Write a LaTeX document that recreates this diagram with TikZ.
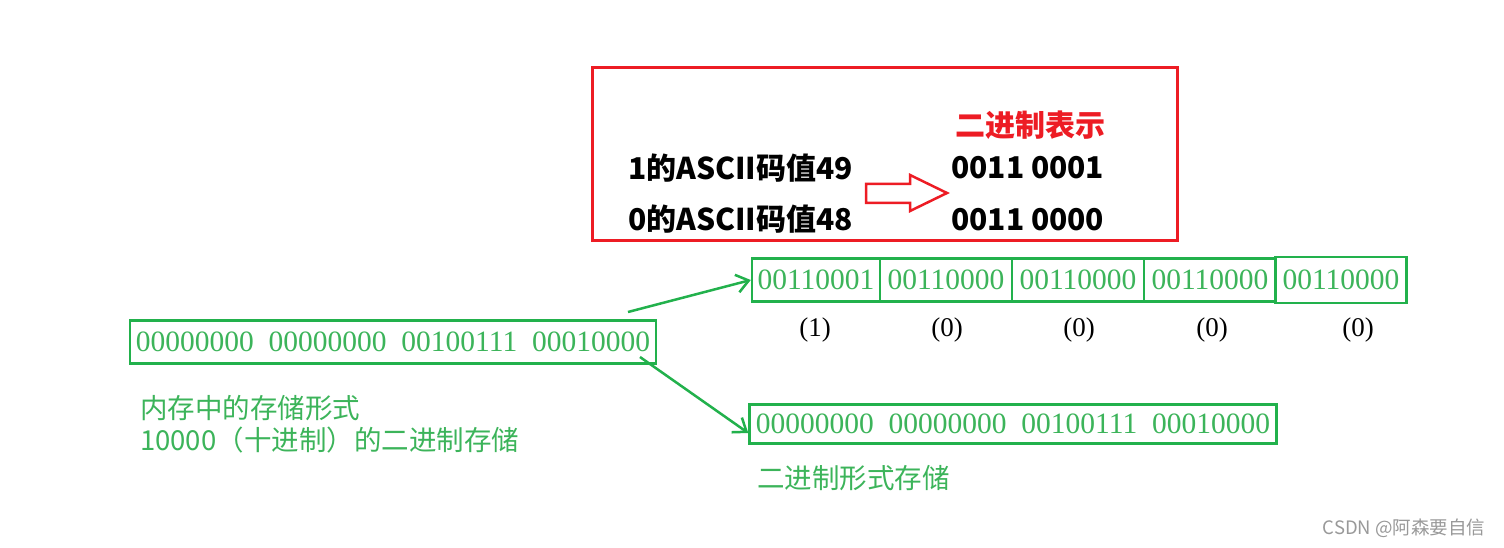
\documentclass[tikz,border=0pt]{standalone}
\usepackage{fontspec}
\setmainfont{Liberation Serif}
\newfontfamily\cjk{Noto Sans CJK SC}
\usetikzlibrary{arrows.meta}
\definecolor{boxgreen}{RGB}{34,177,76}
\definecolor{txtgreen}{RGB}{60,180,90}
\definecolor{boxred}{RGB}{237,28,36}
\begin{document}
\begin{tikzpicture}[x=1pt,y=-1pt,
  cell/.style={draw=boxgreen,line width=2.5pt,text=txtgreen,inner sep=0pt,minimum height=43pt,font=\fontsize{29.5}{29.5}\selectfont},
  num/.style={inner sep=0pt,font=\fontsize{27}{27}\selectfont},
  tag/.style={inner sep=0pt,anchor=west,text=txtgreen,font=\cjk\fontsize{27.5}{32}\selectfont},
  big/.style={inner sep=0pt,anchor=west,font=\cjk\bfseries\fontsize{30}{30}\selectfont},
  link/.style={draw=boxgreen,line width=2.5pt,-{Straight Barb[length=12pt,width=18pt,line width=2.5pt]}}]
\useasboundingbox[fill=white] (0,0) rectangle (1504,548);
%\draw[step=50,gray,very thin] (0,0) grid (1504,548); %background grid

% red box
\draw[boxred,line width=3pt] (592,68) rectangle (1177,240);
\node[big,text=boxred] (title) at (955,125) {二进制表示};
\node[big] (one) at (628,168) {1的ASCII码值49};
\node[big] (zero) at (628,219) {0的ASCII码值48};
\node[big] (onebin) at (951,168) {0011 0001};
\node[big] (zerobin) at (951,220) {0011 0000};
\draw[boxred,line width=2.5pt] (866,184)--(910,184)--(910,175)--(947,193)--(910,211)--(910,203)--(866,203)--cycle;

% memory
\node[cell,minimum width=526pt] (mem) at (393,342) {00000000\ \ 00000000\ \ 00100111\ \ 00010000};
\node[tag] (memtxt) at (140,408) {内存中的存储形式};
\node[tag] (dectxt) at (140,440) {10000（十进制）的二进制存储};

% characters
\node[cell,minimum width=128pt] (b1) at (816,280) {00110001};
\node[cell,minimum width=132pt] (b2) at (946,280) {00110000};
\node[cell,minimum width=132pt] (b3) at (1078,280) {00110000};
\node[cell,minimum width=132pt] (b4) at (1210,280) {00110000};
\node[cell,minimum width=131pt,minimum height=46pt] (b5) at (1341,280) {00110000};
\node[num] (c1) at (815,330) {(1)};
\node[num] (c2) at (947,330) {(0)};
\node[num] (c3) at (1079,330) {(0)};
\node[num] (c4) at (1212,330) {(0)};
\node[num] (c5) at (1358,330) {(0)};

% binary
\node[cell,minimum width=527pt,minimum height=39pt] (bin) at (1013,424) {00000000\ \ 00000000\ \ 00100111\ \ 00010000};
\node[tag] (bintxt) at (757,478) {二进制形式存储};

\coordinate (s1) at (628,312);
\coordinate (s2) at (640,357);
\draw[link] (s1) -- (b1.west);
\draw[link] (s2) -- ([yshift=-9pt]bin.west);

\node[inner sep=0pt,text=gray!80,font=\cjk\fontsize{18.5}{18.5}\selectfont] (mark) at (1404,528) {CSDN @阿森要自信};
\end{tikzpicture}
\end{document}
